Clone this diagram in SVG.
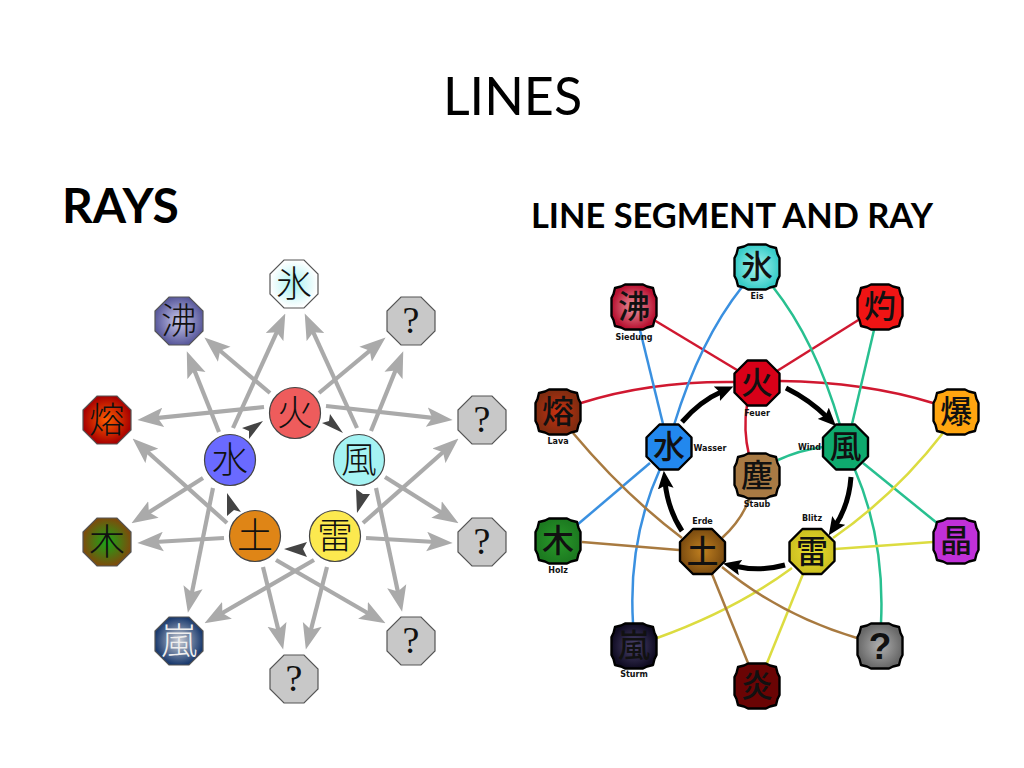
<svg xmlns="http://www.w3.org/2000/svg" width="1024" height="768" viewBox="0 0 1024 768">
<style>
text{font-family:"Lato","Liberation Sans",sans-serif;fill:#000}
.title{font-size:52px;text-anchor:middle}
.head{font-weight:700}
.kl{font-family:"Noto Sans CJK JP","Noto Sans CJK SC",sans-serif;font-size:36px;font-weight:300;text-anchor:middle;fill:#111}
.kr{font-family:"Noto Sans CJK JP","Noto Sans CJK SC",sans-serif;font-size:32px;font-weight:500;text-anchor:middle;fill:#111}
.q{font-family:"Liberation Serif",serif;font-size:38px;text-anchor:middle;fill:#111}
.lab{font-family:"DejaVu Sans",sans-serif;font-size:8px;font-weight:700;text-anchor:middle;fill:#111}
.oc{stroke:#555;stroke-width:1.2}
.ci{stroke:#444;stroke-width:1.2}
.or{stroke:#000;stroke-width:2.4;stroke-linejoin:round}
.ray{stroke:#aaa;stroke-width:4.2;fill:none;marker-end:url(#ah)}
.dark{fill:#444}
.c{fill:none;stroke-width:2.5}
.red{stroke:#d01830}.blue{stroke:#3a90e0}.green{stroke:#28c090}.yellow{stroke:#dcdc40}.brown{stroke:#a87a40}
.blk{fill:none;stroke:#000;stroke-width:5;marker-end:url(#bh)}
</style>
<defs>
<marker id="ah" markerUnits="userSpaceOnUse" markerWidth="26" markerHeight="20" refX="16" refY="9" orient="auto" viewBox="0 0 24 18"><path d="M24,9 L0,0 L5,9 L0,18 Z" fill="#aaa"/></marker>
<marker id="bh" markerUnits="userSpaceOnUse" markerWidth="18" markerHeight="16" refX="6" refY="7" orient="auto" viewBox="0 0 16 14"><path d="M16,7 L0,0 L3,7 L0,14 Z" fill="#000"/></marker>
<polygon id="oct" points="-10,-24 10,-24 24,-10 24,10 10,24 -10,24 -24,10 -24,-10"/>
<polygon id="octr" points="-9.5,-22.5 9.5,-22.5 22.5,-9.5 22.5,9.5 9.5,22.5 -9.5,22.5 -22.5,9.5 -22.5,-9.5"/>
<polygon id="fl" points="-9,-22.5 9,-22.5 13,-20.5 15,-20 19,-19 20,-15 20.5,-13 22.5,-9 22.5,9 20.5,13 20,15 19,19 15,20 13,20.5 9,22.5 -9,22.5 -13,20.5 -15,20 -19,19 -20,15 -20.5,13 -22.5,9 -22.5,-9 -20.5,-13 -20,-15 -19,-19 -15,-20 -13,-20.5"/>
<radialGradient id="a1"><stop offset="0" stop-color="#a8f2f2"/><stop offset="1" stop-color="#fff"/></radialGradient>
<radialGradient id="a2"><stop offset="0" stop-color="#c8c8ec"/><stop offset="1" stop-color="#5a5a9c"/></radialGradient>
<radialGradient id="a3"><stop offset="0" stop-color="#ff6000"/><stop offset="1" stop-color="#a80000"/></radialGradient>
<radialGradient id="a4"><stop offset="0" stop-color="#18a818"/><stop offset="1" stop-color="#7c4c0c"/></radialGradient>
<radialGradient id="a5"><stop offset="0" stop-color="#c8ccd4"/><stop offset="1" stop-color="#1a3a6e"/></radialGradient>
<radialGradient id="b1"><stop offset="0" stop-color="#aaf6f0"/><stop offset="1" stop-color="#38ccc8"/></radialGradient>
<radialGradient id="b2"><stop offset="0" stop-color="#ec98a0"/><stop offset="1" stop-color="#b81030"/></radialGradient>
<radialGradient id="b3"><stop offset="0" stop-color="#c83010"/><stop offset="1" stop-color="#802c10"/></radialGradient>
<radialGradient id="b4"><stop offset="0" stop-color="#c08020"/><stop offset="1" stop-color="#7c4c10"/></radialGradient>
<radialGradient id="b5"><stop offset="0" stop-color="#4c4470"/><stop offset="1" stop-color="#100c22"/></radialGradient>
<radialGradient id="b6"><stop offset="0" stop-color="#b0b0b0"/><stop offset="1" stop-color="#686868"/></radialGradient>
<radialGradient id="b7"><stop offset="0" stop-color="#2a9a2a"/><stop offset="1" stop-color="#1c7a20"/></radialGradient>
<radialGradient id="b8"><stop offset="0" stop-color="#e8dc30"/><stop offset="1" stop-color="#ccc020"/></radialGradient>
</defs>
<rect width="1024" height="768" fill="#fff"/>
<text class="title" x="512.5" y="115">LINES</text>
<text class="head" x="62" y="223" font-size="48">RAYS</text>
<text class="head" x="531" y="228" font-size="34.4">LINE SEGMENT AND RAY</text>

<g id="rays-connectors">
<line class="ray" x1="270" y1="393" x2="211" y2="343"/>
<line class="ray" x1="219" y1="432" x2="190" y2="359.4"/>
<line class="ray" x1="264" y1="407" x2="146" y2="419.2"/>
<line class="ray" x1="233" y1="428" x2="281.7" y2="321.3"/>
<line class="ray" x1="357" y1="428" x2="308.3" y2="321.3"/>
<line class="ray" x1="319" y1="393" x2="378.9" y2="343.1"/>
<line class="ray" x1="371" y1="431" x2="400" y2="359.4"/>
<line class="ray" x1="326" y1="406" x2="444" y2="419.1"/>
<line class="ray" x1="363" y1="523" x2="452" y2="444.3"/>
<line class="ray" x1="227" y1="523" x2="139" y2="444.3"/>
<line class="ray" x1="203" y1="478" x2="138.8" y2="518.7"/>
<line class="ray" x1="224" y1="538" x2="146" y2="542.5"/>
<line class="ray" x1="213" y1="488" x2="189.6" y2="604.2"/>
<line class="ray" x1="314" y1="560" x2="212" y2="619"/>
<line class="ray" x1="263" y1="567" x2="281.1" y2="641.2"/>
<line class="ray" x1="327" y1="567" x2="308" y2="641.2"/>
<line class="ray" x1="276" y1="560" x2="378" y2="619"/>
<line class="ray" x1="376" y1="488" x2="400.3" y2="603.2"/>
<line class="ray" x1="385" y1="477" x2="451.2" y2="518.7"/>
<line class="ray" x1="366" y1="538" x2="444" y2="542.5"/>
<polygon class="dark" points="263,421 242,428 249,431 249,439"/>
<polygon class="dark" points="343,433 322,423 329,421 330,414"/>
<polygon class="dark" points="357,513 356,489 363,494 370,494"/>
<polygon class="dark" points="284,549 307,542 303,549 307,557"/>
<polygon class="dark" points="227,493 227,516 234,510 241,512"/>
</g>

<g id="l-ice" transform="translate(294,284)"><use href="#oct" class="oc" fill="url(#a1)"/><text class="kl" y="13">氷</text></g>
<g id="l-boil" transform="translate(179,321)"><use href="#oct" class="oc" fill="url(#a2)"/><text class="kl" y="13">沸</text></g>
<g id="l-lava" transform="translate(107,420)"><use href="#oct" class="oc" fill="url(#a3)"/><text class="kl" y="13">熔</text></g>
<g id="l-wood" transform="translate(107,542)"><use href="#oct" class="oc" fill="url(#a4)"/><text class="kl" y="13">木</text></g>
<g id="l-storm" transform="translate(179,641)"><use href="#oct" class="oc" fill="url(#a5)"/><text class="kl" y="13" style="fill:#eee">嵐</text></g>
<g id="l-q1" transform="translate(294,679)"><use href="#oct" class="oc" fill="#c8c8c8"/><text class="q" y="12">?</text></g>
<g id="l-q2" transform="translate(411,641)"><use href="#oct" class="oc" fill="#c8c8c8"/><text class="q" y="12">?</text></g>
<g id="l-q3" transform="translate(482,542)"><use href="#oct" class="oc" fill="#c8c8c8"/><text class="q" y="12">?</text></g>
<g id="l-q4" transform="translate(482,420)"><use href="#oct" class="oc" fill="#c8c8c8"/><text class="q" y="12">?</text></g>
<g id="l-q5" transform="translate(411,321)"><use href="#oct" class="oc" fill="#c8c8c8"/><text class="q" y="12">?</text></g>
<g id="l-fire" transform="translate(295,413)"><circle r="25.5" class="ci" fill="#ee5c5c"/><text class="kl" y="13">火</text></g>
<g id="l-water" transform="translate(230,460)"><circle r="25.5" class="ci" fill="#6a6aff"/><text class="kl" y="13">水</text></g>
<g id="l-wind" transform="translate(359,460)"><circle r="25.5" class="ci" fill="#a5f3f3"/><text class="kl" y="13">風</text></g>
<g id="l-earth" transform="translate(255,536)"><circle r="25.5" class="ci" fill="#df8516"/><text class="kl" y="13">土</text></g>
<g id="l-lightning" transform="translate(335,536)"><circle r="25.5" class="ci" fill="#fce94f"/><text class="kl" y="13">雷</text></g>

<g id="segment-connectors">
<line class="c red" x1="654" y1="320" x2="737" y2="370"/>
<line class="c red" x1="860" y1="319" x2="777" y2="371"/>
<path class="c red" d="M581,403 Q650,381 734,382"/>
<path class="c red" d="M780,381 Q865,382 933,403"/>
<path class="c red" d="M747,405 Q743,430 749,455"/>
<line class="c blue" x1="663" y1="424" x2="640" y2="330"/>
<path class="c blue" d="M674,425 Q700,340 742,287"/>
<line class="c blue" x1="650" y1="463" x2="577" y2="525"/>
<path class="c blue" d="M660,469 Q628,540 633,623"/>
<path class="c green" d="M773,287 Q815,340 840,425"/>
<line class="c green" x1="874" y1="330" x2="852" y2="424"/>
<path class="c green" d="M778,460 Q800,450 823,447"/>
<line class="c green" x1="863" y1="463" x2="937" y2="523"/>
<path class="c green" d="M855,470 Q885,540 881,623"/>
<path class="c yellow" d="M943,433 Q895,495 833,538"/>
<line class="c yellow" x1="835" y1="549" x2="933" y2="542"/>
<line class="c yellow" x1="803" y1="574" x2="767" y2="663"/>
<path class="c yellow" d="M792,568 Q735,610 657,638"/>
<path class="c brown" d="M573,433 Q625,495 682,538"/>
<line class="c brown" x1="582" y1="542" x2="679" y2="550"/>
<path class="c brown" d="M750,497 Q742,520 722,538"/>
<line class="c brown" x1="712" y1="574" x2="748" y2="663"/>
<path class="c brown" d="M722,567 Q780,615 857,638"/>
<path class="blk" d="M682,422 Q700,401 723,391"/>
<path class="blk" d="M786,388 Q810,400 828,418"/>
<path class="blk" d="M851,477 Q849,505 835,526"/>
<path class="blk" d="M785,565 Q760,572 734,566"/>
<path class="blk" d="M682,531 Q668,510 665,482"/>
</g>

<g id="r-ice" transform="translate(757,267)"><use href="#fl" class="or" fill="url(#b1)"/><text class="kr" y="11">氷</text><text class="lab" y="32">Eis</text></g>
<g id="r-boil" transform="translate(634,307)"><use href="#fl" class="or" fill="url(#b2)"/><text class="kr" y="11">沸</text><text class="lab" y="33">Siedung</text></g>
<g id="r-scorch" transform="translate(880,307)"><use href="#fl" class="or" fill="#f01414"/><text class="kr" y="11">灼</text></g>
<g id="r-lava" transform="translate(558,412)"><use href="#fl" class="or" fill="url(#b3)"/><text class="kr" y="11">熔</text><text class="lab" y="32">Lava</text></g>
<g id="r-blast" transform="translate(956,412)"><use href="#fl" class="or" fill="#ffa510"/><text class="kr" y="11">爆</text></g>
<g id="r-fire" transform="translate(757,383)"><use href="#octr" class="or" fill="#d80018"/><text class="kr" y="11">火</text><text class="lab" y="33">Feuer</text></g>
<g id="r-water" transform="translate(669,447)"><use href="#octr" class="or" fill="#2288ee"/><text class="kr" y="11">水</text><text class="lab" x="41" y="4">Wasser</text></g>
<g id="r-wind" transform="translate(845.5,447)"><use href="#octr" class="or" fill="#0eaa6e"/><text class="kr" y="11">風</text><text class="lab" x="-36" y="3">Wind</text></g>
<g id="r-dust" transform="translate(757,476)"><use href="#fl" class="or" fill="#a87a44"/><text class="kr" y="11">塵</text><text class="lab" y="31">Staub</text></g>
<g id="r-earth" transform="translate(702.5,551.5)"><use href="#octr" class="or" fill="url(#b4)"/><text class="kr" y="11">土</text><text class="lab" y="-28">Erde</text></g>
<g id="r-lightning" transform="translate(812,551.5)"><use href="#octr" class="or" fill="url(#b8)"/><text class="kr" y="11">雷</text><text class="lab" y="-31">Blitz</text></g>
<g id="r-wood" transform="translate(558,541)"><use href="#fl" class="or" fill="url(#b7)"/><text class="kr" y="11">木</text><text class="lab" y="32">Holz</text></g>
<g id="r-crystal" transform="translate(956,541)"><use href="#fl" class="or" fill="#c030d8"/><text class="kr" y="11">晶</text></g>
<g id="r-storm" transform="translate(634,646)"><use href="#fl" class="or" fill="url(#b5)"/><text class="kr" y="11">嵐</text><text class="lab" y="31">Sturm</text></g>
<g id="r-q" transform="translate(880,646)"><use href="#fl" class="or" fill="url(#b6)"/><text class="q" y="13" style="font-family:'Liberation Sans',sans-serif;font-weight:700;font-size:37px">?</text></g>
<g id="r-flame" transform="translate(757,686)"><use href="#fl" class="or" fill="#6a0404"/><text class="kr" y="11">炎</text></g>
</svg>
